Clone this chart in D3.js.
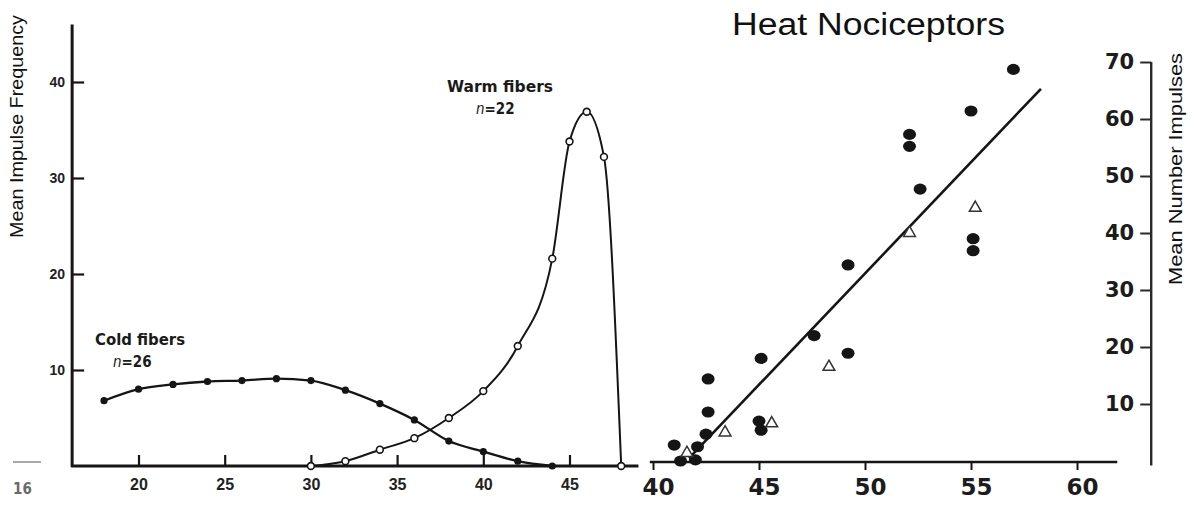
<!DOCTYPE html>
<html>
<head>
<meta charset="utf-8">
<script src="https://cdn.jsdelivr.net/npm/d3@7"></script>
<style>
  body { margin: 0; background: #fff; }
  svg { display: block; }
  .tick text { font-family: "Liberation Sans", Arial, sans-serif; font-weight: bold; fill: #222; }
  .right-axis .tick text { font-family: "DejaVu Sans", sans-serif; fill: #1c1c1c; }
  .label { font-family: "Liberation Sans", Arial, sans-serif; fill: #111; }
  .note { font-family: "Liberation Sans Narrow", "DejaVu Sans Condensed", sans-serif; font-weight: bold; fill: #1a1a1a; }
</style>
</head>
<body>
<svg width="1196" height="505"></svg>
<script>
// left panel: thermoreceptor firing vs temperature
var coldTemps = [18, 20, 22, 24, 26, 28, 30, 32, 34, 36, 38, 40, 42, 44];
var coldRates = [6.8, 8.0, 8.5, 8.8, 8.9, 9.1, 8.9, 7.9, 6.5, 4.8, 2.6, 1.5, 0.5, 0];
var warmTemps = [30, 32, 34, 36, 38, 40, 42, 44, 45, 46, 47, 48];
var warmRates = [0, 0.5, 1.7, 2.9, 5.0, 7.8, 12.5, 21.6, 33.8, 36.9, 32.2, 0];
var leftXTicks = [20, 25, 30, 35, 40, 45];
var leftYTicks = [10, 20, 30, 40];

// right panel: heat nociceptors
var dotTemps  = [57, 55, 52.1, 52.1, 52.6, 55.1, 55.1, 49.2, 47.6, 49.2, 45.1, 42.6, 42.6, 42.5, 45, 45.1, 41, 41.3, 42, 42.1];
var dotCounts = [68.7, 61.4, 57.3, 55.2, 47.7, 39, 36.9, 34.4, 22, 18.9, 18, 14.4, 8.6, 4.7, 7.0, 5.4, 2.8, 0, 0.2, 2.5];
var triTemps  = [55.2, 52.1, 48.3, 45.6, 43.4, 41.6];
var triCounts = [44.4, 40, 16.5, 6.6, 5, 1.4];
var fitTemps  = [41.7, 58.3];
var fitCounts = [0.5, 65.3];
var rightXTicks = [40, 45, 50, 55, 60];
var rightYTicks = [10, 20, 30, 40, 50, 60, 70];

var svg = d3.select("svg");
var ink = "#151515";

// ---------- left panel ----------
var xL = d3.scaleLinear().domain([20, 45]).range([138.5, 569.5]);
var yL = d3.scaleLinear().domain([0, 40]).range([466, 82]);

var left = svg.append("g");

left.append("line")
    .attr("x1", xL(16.15)).attr("x2", xL(16.15))
    .attr("y1", yL(46)).attr("y2", yL(0) + 1)
    .attr("stroke", ink).attr("stroke-width", 3);
left.append("line")
    .attr("x1", xL(16.15) - 1).attr("x2", xL(49))
    .attr("y1", yL(0)).attr("y2", yL(0))
    .attr("stroke", ink).attr("stroke-width", 3);

left.append("g")
    .attr("transform", "translate(" + xL(16.15) + ",0)")
    .call(d3.axisLeft(yL).tickValues(leftYTicks).tickSizeInner(-12).tickSizeOuter(0).tickPadding(7))
    .call(function(g) {
      g.select(".domain").remove();
      g.selectAll(".tick line").attr("stroke", ink).attr("stroke-width", 2.2);
      g.selectAll(".tick text").style("font-size", "14px");
    });

left.append("g")
    .attr("transform", "translate(0," + yL(0) + ")")
    .call(d3.axisBottom(xL).tickValues(leftXTicks).tickSizeInner(-11).tickSizeOuter(0).tickPadding(13))
    .call(function(g) {
      g.select(".domain").remove();
      g.selectAll(".tick line").attr("stroke", ink).attr("stroke-width", 2.2);
      g.selectAll(".tick text").style("font-size", "16px");
    });

var curve = d3.line()
    .x(function(d) { return xL(d[0]); })
    .y(function(d) { return yL(d[1]); })
    .curve(d3.curveMonotoneX);

var cold = d3.zip(coldTemps, coldRates);
var warm = d3.zip(warmTemps, warmRates);

left.append("path").datum(cold)
    .attr("d", curve).attr("fill", "none")
    .attr("stroke", ink).attr("stroke-width", 2.3);
left.append("path").datum(warm)
    .attr("d", curve).attr("fill", "none")
    .attr("stroke", ink).attr("stroke-width", 2);

left.selectAll(".cold").data(cold).enter().append("circle")
    .attr("class", "cold")
    .attr("cx", function(d) { return xL(d[0]); })
    .attr("cy", function(d) { return yL(d[1]); })
    .attr("r", 3.6).attr("fill", ink);

left.selectAll(".warm").data(warm).enter().append("circle")
    .attr("class", "warm")
    .attr("cx", function(d) { return xL(d[0]); })
    .attr("cy", function(d) { return yL(d[1]); })
    .attr("r", 3.4).attr("fill", "#fff")
    .attr("stroke", ink).attr("stroke-width", 1.6);

left.append("text").attr("class", "note")
    .attr("x", 95).attr("y", 345)
    .attr("textLength", 90).attr("lengthAdjust", "spacingAndGlyphs")
    .style("font-size", "16px").text("Cold fibers");
var n1 = left.append("text").attr("class", "note")
    .attr("x", 113).attr("y", 367).style("font-size", "15px");
n1.append("tspan").style("font-style", "italic").style("font-weight", "normal").text("n");
n1.append("tspan").text("=26");

left.append("text").attr("class", "note")
    .attr("x", 447).attr("y", 92)
    .attr("textLength", 106).attr("lengthAdjust", "spacingAndGlyphs")
    .style("font-size", "16px").text("Warm fibers");
var n2 = left.append("text").attr("class", "note")
    .attr("x", 476).attr("y", 114).style("font-size", "15px");
n2.append("tspan").style("font-style", "italic").style("font-weight", "normal").text("n");
n2.append("tspan").text("=22");

svg.append("text").attr("class", "label")
    .attr("transform", "translate(23,238) rotate(-90)")
    .attr("textLength", 223).attr("lengthAdjust", "spacingAndGlyphs")
    .style("font-size", "19px").text("Mean Impulse Frequency");

// cropped leftovers at the bottom left edge
svg.append("line")
    .attr("x1", 13).attr("x2", 41).attr("y1", 462).attr("y2", 462)
    .attr("stroke", "#8a8a8a").attr("stroke-width", 1.5);
svg.append("text").attr("class", "note")
    .attr("x", 13).attr("y", 494)
    .style("font-size", "15px").style("fill", "#6a6a6a").text("16");

// ---------- right panel ----------
var xR = d3.scaleLinear().domain([40, 60]).range([653, 1077]);
var yR = d3.scaleLinear().domain([0, 70]).range([461, 62]);
var yAxisAt = 63.5;

var right = svg.append("g");

right.append("line")
    .attr("x1", xR(39.85)).attr("x2", xR(61.9))
    .attr("y1", yR(0) + 1).attr("y2", yR(0) + 1)
    .attr("stroke", ink).attr("stroke-width", 2.6);
right.append("line")
    .attr("x1", xR(yAxisAt)).attr("x2", xR(yAxisAt))
    .attr("y1", yR(70)).attr("y2", yR(-0.8))
    .attr("stroke", "#2a2a2a").attr("stroke-width", 2.4);

right.append("g").attr("class", "right-axis")
    .attr("transform", "translate(0," + (yR(0) + 1) + ")")
    .call(d3.axisBottom(xR).tickValues(rightXTicks).tickSizeInner(8).tickSizeOuter(0).tickPadding(9))
    .call(function(g) {
      g.select(".domain").remove();
      g.selectAll(".tick line").attr("stroke", ink).attr("stroke-width", 2);
      g.selectAll(".tick text").style("font-size", "23px").attr("dx", "5");
    });

right.append("g").attr("class", "right-axis")
    .attr("transform", "translate(" + xR(yAxisAt) + ",0)")
    .call(d3.axisLeft(yR).tickValues(rightYTicks).tickSizeInner(11).tickSizeOuter(0).tickPadding(6))
    .call(function(g) {
      g.select(".domain").remove();
      g.selectAll(".tick line").attr("stroke", "#2a2a2a").attr("stroke-width", 2);
      g.selectAll(".tick text").style("font-size", "21px");
    });

right.append("path").datum(d3.zip(fitTemps, fitCounts))
    .attr("d", d3.line().x(function(d) { return xR(d[0]); }).y(function(d) { return yR(d[1]); }))
    .attr("stroke", ink).attr("stroke-width", 2.6).attr("fill", "none");

right.selectAll(".dot").data(d3.zip(dotTemps, dotCounts)).enter().append("ellipse")
    .attr("class", "dot")
    .attr("cx", function(d) { return xR(d[0]); })
    .attr("cy", function(d) { return yR(d[1]); })
    .attr("rx", 6.5).attr("ry", 5.6).attr("fill", ink);

right.selectAll(".tri").data(d3.zip(triTemps, triCounts)).enter().append("path")
    .attr("class", "tri")
    .attr("transform", function(d) { return "translate(" + xR(d[0]) + "," + yR(d[1]) + ")"; })
    .attr("d", d3.symbol().type(d3.symbolTriangle).size(60))
    .attr("fill", "#fff").attr("stroke", "#333").attr("stroke-width", 1.5);

svg.append("text").attr("class", "label")
    .attr("x", 732).attr("y", 35)
    .attr("textLength", 273).attr("lengthAdjust", "spacingAndGlyphs")
    .style("font-size", "31px").text("Heat Nociceptors");

svg.append("text").attr("class", "label")
    .attr("transform", "translate(1182,285) rotate(-90)")
    .attr("textLength", 232).attr("lengthAdjust", "spacingAndGlyphs")
    .style("font-size", "19px").text("Mean Number Impulses");
</script>
</body>
</html>
